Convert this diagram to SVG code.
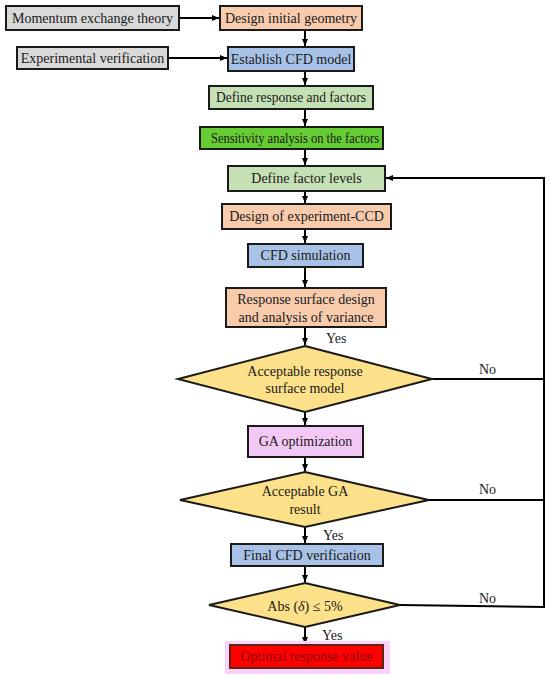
<svg xmlns="http://www.w3.org/2000/svg" width="550" height="675" viewBox="0 0 550 675">
<defs>
<marker id="ah" markerWidth="8" markerHeight="8" refX="7" refY="4" orient="auto" markerUnits="userSpaceOnUse">
<path d="M0,1 L7,4 L0,7 Z" fill="#000"/>
</marker>
<style>
.b{stroke:#1a1a1a;stroke-width:2}
.t{font-family:'Liberation Serif','Times New Roman',serif;font-size:14px;fill:#1a1a1a;text-anchor:middle;dominant-baseline:central}
.l{font-family:'Liberation Serif','Times New Roman',serif;font-size:14px;fill:#1a1a1a}
.c{stroke:#000;stroke-width:2;fill:none}
.gray{fill:#d9d9d9}.or{fill:#f8cbad}.bl{fill:#a7c2e6}.lg{fill:#c5e0b4}.dg{fill:#66cc33}.pk{fill:#f3c8f5}.yl{fill:#fce08a}
</style>
</defs>
<rect width="550" height="675" fill="#fff"/>
<g id="connectors">
<line class="c" x1="179" y1="18" x2="219" y2="18" marker-end="url(#ah)"/>
<line class="c" x1="168" y1="58" x2="227" y2="58" marker-end="url(#ah)"/>
<line class="c" x1="305" y1="30" x2="305" y2="46" marker-end="url(#ah)"/>
<line class="c" x1="305" y1="71" x2="305" y2="85" marker-end="url(#ah)"/>
<line class="c" x1="305" y1="109" x2="305" y2="126" marker-end="url(#ah)"/>
<line class="c" x1="305" y1="149" x2="305" y2="165" marker-end="url(#ah)"/>
<line class="c" x1="305" y1="191" x2="305" y2="203" marker-end="url(#ah)"/>
<line class="c" x1="305" y1="229" x2="305" y2="243" marker-end="url(#ah)"/>
<line class="c" x1="305" y1="267" x2="305" y2="287" marker-end="url(#ah)"/>
<line class="c" x1="305" y1="327" x2="305" y2="345" marker-end="url(#ah)"/>
<line class="c" x1="305" y1="412" x2="305" y2="425" marker-end="url(#ah)"/>
<line class="c" x1="305" y1="457" x2="305" y2="471" marker-end="url(#ah)"/>
<line class="c" x1="305" y1="527" x2="305" y2="543" marker-end="url(#ah)"/>
<line class="c" x1="305" y1="566" x2="305" y2="582" marker-end="url(#ah)"/>
<line class="c" x1="305" y1="627" x2="305" y2="644" marker-end="url(#ah)"/>
<polyline class="c" points="432,379 544,379"/>
<polyline class="c" points="429,500 544,500"/>
<polyline class="c" points="400,605 544,607 544,178 386,178" marker-end="url(#ah)"/>
<text class="l" x="326" y="343" font-family="Liberation Serif, serif">Yes</text>
<text class="l" x="323" y="540" font-family="Liberation Serif, serif">Yes</text>
<text class="l" x="322" y="640" font-family="Liberation Serif, serif">Yes</text>
<text class="l" x="479" y="374" font-family="Liberation Serif, serif">No</text>
<text class="l" x="479" y="494" font-family="Liberation Serif, serif">No</text>
<text class="l" x="479" y="603" font-family="Liberation Serif, serif">No</text>
</g>
<g id="n1"><rect class="b gray" x="6" y="6" width="173" height="24"/><text class="t" x="92.5" y="18" font-family="Liberation Serif, serif">Momentum exchange theory</text></g>
<g id="n2"><rect class="b or" x="220" y="6" width="142" height="24"/><text class="t" x="291" y="18" font-family="Liberation Serif, serif">Design initial geometry</text></g>
<g id="n3"><rect class="b gray" x="17" y="47" width="151" height="22"/><text class="t" x="92.5" y="58" font-family="Liberation Serif, serif">Experimental verification</text></g>
<g id="n4"><rect class="b bl" x="228" y="47" width="126" height="24"/><text class="t" x="291" y="59" font-family="Liberation Serif, serif">Establish CFD model</text></g>
<g id="n5"><rect class="b lg" x="209" y="86" width="164" height="23"/><text class="t" x="291" y="97.5" font-family="Liberation Serif, serif" textLength="150" lengthAdjust="spacingAndGlyphs">Define response and factors</text></g>
<g id="n6"><rect class="b dg" x="200" y="127" width="183" height="22"/><text class="t" x="295" y="138" font-family="Liberation Serif, serif" textLength="168" lengthAdjust="spacingAndGlyphs">Sensitivity analysis on the factors</text></g>
<g id="n7"><rect class="b lg" x="228" y="166" width="157" height="25"/><text class="t" x="306.5" y="178.5" font-family="Liberation Serif, serif">Define factor levels</text></g>
<g id="n8"><rect class="b or" x="222" y="204" width="169" height="25"/><text class="t" x="306.5" y="216.5" font-family="Liberation Serif, serif">Design of experiment-CCD</text></g>
<g id="n9"><rect class="b bl" x="248" y="244" width="115" height="23"/><text class="t" x="305.5" y="255.5" font-family="Liberation Serif, serif">CFD simulation</text></g>
<g id="n10"><rect class="b or" x="226" y="288" width="160" height="39"/><text class="t" x="306" y="299" font-family="Liberation Serif, serif">Response surface design</text><text class="t" x="306" y="317" font-family="Liberation Serif, serif">and analysis of variance</text></g>
<g id="n11"><polygon class="b yl" points="305,346 432,379 305,412 178,379"/><text class="t" x="305" y="371" font-family="Liberation Serif, serif">Acceptable response</text><text class="t" x="305" y="388" font-family="Liberation Serif, serif">surface model</text></g>
<g id="n12"><rect class="b pk" x="248" y="426" width="115" height="31"/><text class="t" x="305.5" y="441.5" font-family="Liberation Serif, serif">GA optimization</text></g>
<g id="n13"><polygon class="b yl" points="305,472 429,500 305,527 180,500"/><text class="t" x="305" y="491" font-family="Liberation Serif, serif">Acceptable GA</text><text class="t" x="305" y="509" font-family="Liberation Serif, serif">result</text></g>
<g id="n14"><rect class="b bl" x="231" y="544" width="152" height="22"/><text class="t" x="307" y="555" font-family="Liberation Serif, serif">Final CFD verification</text></g>
<g id="n15"><polygon class="b yl" points="305,583 400,605 305,627 209,605"/><text class="t" x="305" y="606" font-family="Liberation Serif, serif">Abs (<tspan font-style="italic">δ</tspan>) ≤ 5%</text></g>
<g id="n16"><rect x="225" y="641" width="165" height="33" fill="#fbd0fb"/><rect x="230" y="645" width="153" height="23" fill="#ff0000" stroke="#5a2a10" stroke-width="2"/><text class="t" x="306.5" y="656.5" style="fill:#8b0000" font-family="Liberation Serif, serif">Optimal response value</text></g>
</svg>
